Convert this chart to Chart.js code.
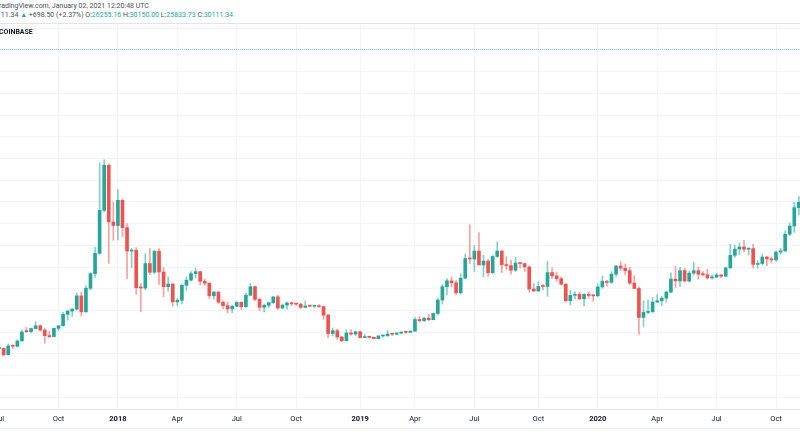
<!DOCTYPE html>
<html lang="en">

<head>
    <meta charset="UTF-8">
    <title>BTCUSD 1W - COINBASE</title>
    <style>
        html, body { margin: 0; padding: 0; background: #fff; }
        body { width: 800px; height: 445px; overflow: hidden; position: relative; font-family: Roboto, "Noto Sans", sans-serif; color: #4a4e5a; }
        .linha { position: absolute; white-space: nowrap; font-size: 7px; line-height: 9px; }
        .l1 { left: -5px; top: 2px; }
        .l2 { left: -11px; top: 11px; }
        .l2 .v { color: #26a69a; }
        .sep { position: absolute; left: 0; top: 23px; width: 800px; height: 1px; background: #e0e3eb; }
        .exch { position: absolute; left: -1px; top: 28px; font-size: 7px; font-weight: bold; color: #131722; }
        .baixo { position: absolute; left: 0; top: 428px; width: 800px; height: 1px; background: #e9ecf2; }
        #grafico { position: absolute; left: 0; top: 23px; }
    </style>
</head>

<body>
    <div class="linha l1">TradingView.com, January 02, 2021 12:20:48 UTC</div>
    <div class="linha l2">30111.34 <span class="v">▲</span> +698.50 (+2.37%) O:<span class="v">26255.16</span> H:<span class="v">30150.00</span> L:<span class="v">25833.73</span> C:<span class="v">30111.34</span></div>
    <canvas id="grafico" width="800" height="406"></canvas>
    <div class="sep"></div>
    <div class="exch">COINBASE</div>
    <div class="baixo"></div>
</body>

</html>
<script src="https://cdn.jsdelivr.net/npm/chart.js"></script>
<script>
    // semanas (segunda-feira), a partir de 2017-07-03
    var semanas = [
        '2017-07-03', '2017-07-10', '2017-07-17', '2017-07-24', '2017-07-31', '2017-08-07', '2017-08-14', '2017-08-21', '2017-08-28', '2017-09-04',
        '2017-09-11', '2017-09-18', '2017-09-25', '2017-10-02', '2017-10-09', '2017-10-16', '2017-10-23', '2017-10-30', '2017-11-06', '2017-11-13',
        '2017-11-20', '2017-11-27', '2017-12-04', '2017-12-11', '2017-12-18', '2017-12-25', '2018-01-01', '2018-01-08', '2018-01-15', '2018-01-22',
        '2018-01-29', '2018-02-05', '2018-02-12', '2018-02-19', '2018-02-26', '2018-03-05', '2018-03-12', '2018-03-19', '2018-03-26', '2018-04-02',
        '2018-04-09', '2018-04-16', '2018-04-23', '2018-04-30', '2018-05-07', '2018-05-14', '2018-05-21', '2018-05-28', '2018-06-04', '2018-06-11',
        '2018-06-18', '2018-06-25', '2018-07-02', '2018-07-09', '2018-07-16', '2018-07-23', '2018-07-30', '2018-08-06', '2018-08-13', '2018-08-20',
        '2018-08-27', '2018-09-03', '2018-09-10', '2018-09-17', '2018-09-24', '2018-10-01', '2018-10-08', '2018-10-15', '2018-10-22', '2018-10-29',
        '2018-11-05', '2018-11-12', '2018-11-19', '2018-11-26', '2018-12-03', '2018-12-10', '2018-12-17', '2018-12-24', '2018-12-31', '2019-01-07',
        '2019-01-14', '2019-01-21', '2019-01-28', '2019-02-04', '2019-02-11', '2019-02-18', '2019-02-25', '2019-03-04', '2019-03-11', '2019-03-18',
        '2019-03-25', '2019-04-01', '2019-04-08', '2019-04-15', '2019-04-22', '2019-04-29', '2019-05-06', '2019-05-13', '2019-05-20', '2019-05-27',
        '2019-06-03', '2019-06-10', '2019-06-17', '2019-06-24', '2019-07-01', '2019-07-08', '2019-07-15', '2019-07-22', '2019-07-29', '2019-08-05',
        '2019-08-12', '2019-08-19', '2019-08-26', '2019-09-02', '2019-09-09', '2019-09-16', '2019-09-23', '2019-09-30', '2019-10-07', '2019-10-14',
        '2019-10-21', '2019-10-28', '2019-11-04', '2019-11-11', '2019-11-18', '2019-11-25', '2019-12-02', '2019-12-09', '2019-12-16', '2019-12-23',
        '2019-12-30', '2020-01-06', '2020-01-13', '2020-01-20', '2020-01-27', '2020-02-03', '2020-02-10', '2020-02-17', '2020-02-24', '2020-03-02',
        '2020-03-09', '2020-03-16', '2020-03-23', '2020-03-30', '2020-04-06', '2020-04-13', '2020-04-20', '2020-04-27', '2020-05-04', '2020-05-11',
        '2020-05-18', '2020-05-25', '2020-06-01', '2020-06-08', '2020-06-15', '2020-06-22', '2020-06-29', '2020-07-06', '2020-07-13', '2020-07-20',
        '2020-07-27', '2020-08-03', '2020-08-10', '2020-08-17', '2020-08-24', '2020-08-31', '2020-09-07', '2020-09-14', '2020-09-21', '2020-09-28',
        '2020-10-05', '2020-10-12', '2020-10-19', '2020-10-26', '2020-11-02', '2020-11-09', '2020-11-16'
    ];

    var abertura = [
        2500, 2518, 1930, 2740, 2710, 3200, 4100, 4060, 4340, 4600,
        4200, 3690, 3600, 4360, 4600, 5650, 5950, 6130, 7350, 5880,
        8050, 9400, 11270, 15230, 19380, 14160, 13830, 16150, 13640, 11480,
        11560, 8110, 8080, 10330, 9530, 11460, 9550, 8200, 8440, 6800,
        6950, 8330, 8800, 9400, 9580, 8700, 8520, 7360, 7700, 6770,
        6450, 6150, 6390, 6750, 6350, 7400, 8200, 7030, 6300, 6480,
        6720, 7260, 6230, 6500, 6700, 6620, 6590, 6290, 6420, 6400,
        6420, 6360, 5580, 3880, 4150, 3560, 3220, 3940, 3830, 4040,
        3510, 3540, 3530, 3410, 3660, 3670, 3840, 3820, 3930, 4000,
        3990, 4100, 5180, 5070, 5300, 5160, 5730, 6970, 8200, 8740,
        8560, 7630, 8980, 10800, 10750, 11480, 10200, 10560, 9480, 10980,
        11480, 10230, 10140, 9720, 10380, 10330, 10020, 7980, 7800, 8230,
        8220, 9500, 9200, 8940, 8420, 6900, 7400, 7500, 7080, 7500,
        7390, 7350, 8180, 8700, 8600, 9350, 10100, 9900, 9670, 8530,
        8030, 5360, 5830, 5880, 6780, 6900, 7140, 7700, 8890, 8730,
        9680, 8720, 9450, 9670, 9350, 9300, 9010, 9070, 9290, 9160,
        9930, 11090, 11650, 11860, 11650, 11700, 10250, 10330, 10930, 10760,
        10670, 11380, 11500, 13030, 13780, 15480, 15970
    ];

    var maxima = [
        2670, 2560, 2920, 2840, 3300, 4200, 4480, 4380, 4980, 4700,
        4350, 4100, 4400, 4620, 5850, 6050, 6200, 7600, 7700, 8300,
        9500, 11850, 19600, 19900, 19500, 16000, 17140, 16300, 14000, 11730,
        11800, 8500, 11250, 11700, 11550, 11700, 9950, 9100, 8500, 7100,
        8430, 9100, 9600, 9920, 9650, 8880, 8560, 7780, 7780, 6900,
        6800, 6500, 6820, 6800, 7600, 8500, 8250, 7150, 6600, 6790,
        7300, 7400, 6600, 6800, 6800, 6650, 6700, 6900, 6510, 6500,
        6560, 6420, 5650, 4400, 4300, 3620, 4240, 4240, 4100, 4100,
        3820, 3650, 3550, 3680, 3720, 4200, 3900, 3950, 4020, 4060,
        4150, 5350, 5470, 5360, 5650, 5780, 7100, 8400, 8950, 9100,
        8760, 9400, 11200, 13880, 12000, 13180, 11100, 10700, 11080, 12320,
        11540, 10950, 10640, 10900, 10450, 10360, 10100, 8480, 8650, 8410,
        10540, 9940, 9500, 9100, 8500, 7850, 7750, 7700, 7530, 7700,
        7500, 8460, 9190, 8790, 9590, 10170, 10500, 10300, 9990, 9200,
        8180, 6900, 6980, 7200, 7460, 7300, 7800, 9480, 10070, 9950,
        9900, 9620, 10430, 10000, 9590, 9800, 9300, 9440, 9300, 10000,
        12100, 12000, 12250, 12470, 11800, 12090, 10600, 11180, 10990, 10950,
        11490, 11730, 13350, 14080, 15970, 16490, 18800
    ];

    var minimas = [
        2480, 1837, 1930, 2450, 2650, 3180, 3960, 3960, 4280, 4100,
        2980, 3500, 3600, 4150, 4560, 5100, 5450, 6040, 5500, 5860,
        7900, 9050, 11150, 15100, 10350, 12470, 12500, 12800, 8940, 9960,
        7500, 5900, 7900, 9300, 9400, 8400, 7250, 7800, 6400, 6450,
        6620, 7850, 8700, 9000, 8350, 8300, 7100, 7050, 6650, 6150,
        5780, 5800, 6350, 6100, 6300, 7400, 6900, 5980, 5880, 6250,
        6650, 6100, 6150, 6120, 6450, 6480, 6200, 6250, 6360, 6260,
        6300, 5200, 3500, 3650, 3350, 3130, 3200, 3700, 3700, 3480,
        3500, 3470, 3380, 3380, 3560, 3650, 3680, 3760, 3830, 3900,
        3950, 4090, 4920, 4980, 5050, 5140, 5640, 6600, 7460, 8200,
        7450, 7520, 8950, 10330, 9600, 10970, 9100, 9150, 9380, 10900,
        9500, 9770, 9350, 9600, 9900, 9600, 7700, 7760, 7750, 7900,
        7300, 8950, 8700, 8350, 6800, 6520, 7080, 7000, 6430, 7130,
        6870, 7300, 8050, 8250, 8500, 9140, 9700, 9300, 8400, 8000,
        3800, 4500, 5700, 5860, 6770, 6450, 6780, 7620, 8120, 8200,
        8640, 8630, 9270, 8900, 9200, 8900, 8900, 9050, 9030, 9120,
        9900, 10900, 11150, 11400, 11100, 9900, 9890, 10220, 10140, 10380,
        10530, 11200, 11400, 12920, 13200, 14800, 15750
    ];

    var fechamento = [
        2518, 1930, 2740, 2710, 3200, 4020, 4060, 4340, 4600, 4200,
        3690, 3600, 4360, 4600, 5650, 5950, 6130, 7350, 5880, 8050,
        9400, 11270, 15230, 19380, 14160, 13830, 16150, 13640, 11480, 11560,
        8110, 8080, 10330, 9530, 11460, 9550, 8200, 8440, 6800, 6950,
        8330, 8800, 9400, 9580, 8700, 8520, 7360, 7700, 6770, 6450,
        6150, 6390, 6750, 6350, 7400, 8200, 7030, 6300, 6480, 6720,
        7260, 6230, 6500, 6700, 6620, 6590, 6290, 6420, 6400, 6420,
        6360, 5580, 3880, 4150, 3560, 3220, 3940, 3830, 4040, 3510,
        3540, 3530, 3410, 3660, 3670, 3840, 3820, 3930, 4000, 3990,
        4100, 5180, 5070, 5300, 5160, 5730, 6970, 8200, 8740, 8560,
        7630, 8980, 10800, 10750, 11480, 10200, 10560, 9480, 10980, 11480,
        10230, 10140, 9720, 10380, 10330, 10020, 7980, 7800, 8230, 8220,
        9500, 9200, 8940, 8420, 6900, 7400, 7500, 7080, 7500, 7390,
        7350, 8180, 8700, 8600, 9350, 10100, 9900, 9670, 8530, 8030,
        5360, 5830, 5880, 6780, 6900, 7140, 7700, 8890, 8730, 9680,
        8720, 9450, 9670, 9350, 9300, 9010, 9070, 9290, 9160, 9930,
        11090, 11650, 11860, 11650, 11700, 10250, 10330, 10930, 10760, 10670,
        11380, 11500, 13030, 13780, 15480, 15970, 18400
    ];

    // marcas do eixo do tempo (indice da semana e texto)
    var marcasSemana = [0, 13, 26, 39, 52, 65, 79, 91, 104, 118, 131, 144, 157, 170];
    var marcasTexto = ['Jul', 'Oct', '2018', 'Apr', 'Jul', 'Oct', '2019', 'Apr', 'Jul', 'Oct', '2020', 'Apr', 'Jul', 'Oct'];

    var precoAtual = 30111.34;

    var verde = '#26a69a';
    var vermelho = '#ef5350';

    var corpos = [];
    var pavios = [];
    var coresCorpo = [];
    var coresPavio = [];
    for (var i = 0; i < semanas.length; i++) {
        corpos.push({ x: i, y: [abertura[i], fechamento[i]] });
        pavios.push({ x: i, y: [minimas[i], maxima[i]] });
        var sobe = fechamento[i] >= abertura[i];
        coresCorpo.push(sobe ? verde : vermelho);
        coresPavio.push(sobe ? 'rgba(38,166,154,0.55)' : 'rgba(239,83,80,0.55)');
    }

    // linha pontilhada do preco atual
    var linhaPreco = {
        id: 'linhaPreco',
        beforeDatasetsDraw(chart) {
            var c = chart.ctx;
            var y = Math.round(chart.scales.y.getPixelForValue(precoAtual)) + 0.5;
            c.save();
            c.strokeStyle = 'rgba(38,166,154,0.55)';
            c.lineWidth = 1;
            c.setLineDash([1, 1]);
            c.beginPath();
            c.moveTo(chart.chartArea.left, y);
            c.lineTo(chart.chartArea.right, y);
            c.stroke();
            c.restore();
        }
    };

    var ctx = document.getElementById('grafico');

    chart1 = new Chart(ctx, {
        type: 'bar',
        data: {
            datasets: [
                { label: 'corpo', data: corpos, backgroundColor: coresCorpo, barThickness: 3, minBarLength: 1, grouped: false },
                { label: 'pavio', data: pavios, backgroundColor: coresPavio, barThickness: 1, grouped: false }
            ]
        },
        options: {
            responsive: false,
            animation: false,
            devicePixelRatio: 1,
            layout: { padding: 0 },
            plugins: { legend: { display: false }, tooltip: { enabled: false } },
            scales: {
                x: {
                    type: 'linear',
                    min: 0.2,
                    max: 175.25,
                    offset: false,
                    grid: { offset: false, color: '#f2f4f9', drawTicks: false },
                    border: { color: '#e0e3eb' },
                    afterBuildTicks: function (s) {
                        s.ticks = marcasSemana.map(function (v) { return { value: v }; });
                    },
                    afterFit: function (s) {
                        s.paddingLeft = 0;
                        s.paddingRight = 0;
                        s.height = 20;
                    },
                    ticks: {
                        autoSkip: false,
                        maxRotation: 0,
                        padding: 6,
                        color: '#131722',
                        font: function (c) {
                            var t = marcasTexto[c.index] || '';
                            return { family: 'Roboto', size: 7.5, weight: t.length == 4 ? 'bold' : 'normal' };
                        },
                        callback: function (v, idx) { return marcasTexto[idx]; }
                    }
                },
                y: {
                    min: -3067,
                    max: 32484,
                    grid: { color: '#f2f4f9', drawTicks: false },
                    border: { display: false },
                    ticks: { display: false },
                    afterBuildTicks: function (s) {
                        var t = [];
                        for (var v = -2000; v <= 32000; v += 2000) t.push({ value: v });
                        s.ticks = t;
                    }
                }
            }
        },
        plugins: [linhaPreco]
    });
</script>
